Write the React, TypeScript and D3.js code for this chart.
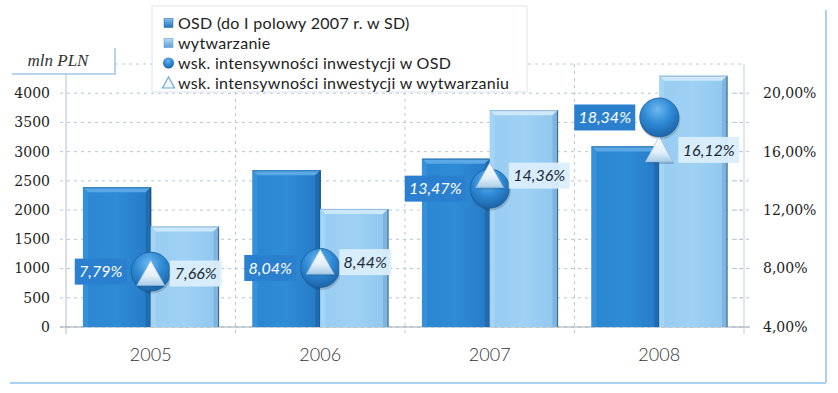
import React from "react";
import * as d3 from "d3";

const years = ["2005", "2006", "2007", "2008"];
const osdValues = [2390, 2680, 2880, 3090];
const wytwValues = [1720, 2020, 3710, 4300];
const osdIndex = [7.79, 8.04, 13.47, 18.34];
const wytwIndex = [7.66, 8.44, 14.36, 16.12];
const leftTicks = [0, 500, 1000, 1500, 2000, 2500, 3000, 3500, 4000];
const rightTicks = [4, 8, 12, 16, 20];
const rightMinor = [4, 6, 8, 10, 12, 14, 16, 18, 20];
const legendItems = [
  "OSD (do I polowy 2007 r. w SD)",
  "wytwarzanie",
  "wsk. intensywności inwestycji w OSD",
  "wsk. intensywności inwestycji w wytwarzaniu",
];

const W = 838;
const H = 393;
const x0 = 66;
const x1 = 744;
const yBottom = 327;
const yTop = 64;

const fmtPct = (v: number) => v.toFixed(2).replace(".", ",") + "%";

export default function App() {
  const x = d3.scaleBand<string>().domain(years).range([x0, x1]);
  const xs = d3.scaleBand<string>().domain(["osd", "wyt"]).range([0, x.bandwidth()]).paddingOuter(0.25);
  const yL = d3.scaleLinear().domain([0, 4500]).range([yBottom, yTop]);
  const yR = d3.scaleLinear().domain([4, 22]).range([yBottom, yTop]);
  const bw = xs.bandwidth();
  const grid = "#b9c6d3";
  const labelFont = "Lato, 'Open Sans', sans-serif";

  const bar = (key: string, xPos: number, v: number, dark: boolean) => {
    const y = yL(v);
    const b = 5;
    return (
      <g key={key}>
        <rect x={xPos} y={y} width={bw} height={yBottom - y} fill={dark ? "url(#darkBar)" : "url(#lightBar)"} />
        <polygon
          points={`${xPos},${y} ${xPos + bw},${y} ${xPos + bw - b},${y + b} ${xPos + b},${y + b}`}
          fill={dark ? "#5aa9e6" : "#cde8fa"}
        />
        <polygon
          points={`${xPos},${y} ${xPos + b},${y + b} ${xPos + b},${yBottom} ${xPos},${yBottom}`}
          fill={dark ? "#3994da" : "#a9d6f5"}
          opacity={0.8}
        />
        <polygon
          points={`${xPos + bw},${y} ${xPos + bw - b},${y + b} ${xPos + bw - b},${yBottom} ${xPos + bw},${yBottom}`}
          fill={dark ? "#1f69ad" : "#7bb3de"}
          opacity={0.9}
        />
        <line x1={xPos + bw} x2={xPos + bw} y1={y} y2={yBottom} stroke={dark ? "#1a4a78" : "#3d6c92"} strokeWidth={1.2} />
        <line x1={xPos} x2={xPos + bw} y1={y + 0.5} y2={y + 0.5} stroke={dark ? "#2a6fae" : "#8fbadc"} strokeWidth={1} />
      </g>
    );
  };

  return (
    <svg width={W} height={H} style={{ position: "absolute", left: 0, top: 0, background: "#fff" }}>
      <defs>
        <linearGradient id="darkBar" x1="0" x2="1" y1="0" y2="0">
          <stop offset="0" stopColor="#2b86d2" />
          <stop offset="0.5" stopColor="#2f8cd6" />
          <stop offset="1" stopColor="#2679c6" />
        </linearGradient>
        <linearGradient id="lightBar" x1="0" x2="1" y1="0" y2="0">
          <stop offset="0" stopColor="#98ccf1" />
          <stop offset="0.5" stopColor="#9fd1f4" />
          <stop offset="1" stopColor="#90c6ee" />
        </linearGradient>
        <radialGradient id="ball" cx="0.45" cy="0.3" r="0.72">
          <stop offset="0" stopColor="#6db8ee" />
          <stop offset="0.5" stopColor="#2f8ad5" />
          <stop offset="1" stopColor="#1a62a6" />
        </radialGradient>
        <linearGradient id="tri" x1="0" x2="0" y1="0" y2="1">
          <stop offset="0" stopColor="#ffffff" />
          <stop offset="0.6" stopColor="#e3f0fa" />
          <stop offset="1" stopColor="#a7cbe8" />
        </linearGradient>
        <linearGradient id="legSq" x1="0" x2="0" y1="0" y2="1">
          <stop offset="0" stopColor="#7fc0ef" />
          <stop offset="1" stopColor="#2272bd" />
        </linearGradient>
        <linearGradient id="legSq2" x1="0" x2="0" y1="0" y2="1">
          <stop offset="0" stopColor="#b5dcf7" />
          <stop offset="1" stopColor="#5a9fd6" />
        </linearGradient>
      </defs>

      {/* outer frame */}
      <line x1={826} x2={826} y1={10} y2={383} stroke="#a9d0ee" strokeWidth={2} />
      <line x1={10} x2={826} y1={383} y2={383} stroke="#a9d0ee" strokeWidth={2} />

      {/* horizontal grid */}
      {leftTicks.map((t) => (
        <line key={"g" + t} x1={60} x2={x1} y1={yL(t)} y2={yL(t)} stroke={grid} strokeDasharray="3,4" />
      ))}
      <line x1={115} x2={x1} y1={yTop} y2={yTop} stroke={grid} strokeDasharray="3,4" />

      {/* vertical grid */}
      {years.map((yr, i) =>
        i === 0 ? null : (
          <line key={"v" + yr} x1={x(yr)} x2={x(yr)} y1={yTop} y2={yBottom + 7} stroke={grid} strokeDasharray="3,4" />
        )
      )}

      {/* axes */}
      <line x1={x0} x2={x0} y1={74} y2={yBottom + 7} stroke="#aebfd0" />
      <line x1={x1} x2={x1} y1={yTop} y2={yBottom + 7} stroke="#c4cfda" />
      <line x1={60} x2={x1 + 6} y1={yBottom} y2={yBottom} stroke="#9aa7b3" />
      {rightMinor.map((t) => (
        <line key={"rt" + t} x1={x1 - 10} x2={x1 + 6} y1={yR(t)} y2={yR(t)} stroke={grid} strokeDasharray="3,3" />
      ))}

      {leftTicks.map((t) => (
        <text key={"l" + t} x={50} y={yL(t)} dy="0.35em" textAnchor="end" fontFamily="'DejaVu Serif', serif" fontSize={14} fill="#222">
          {t}
        </text>
      ))}

      {rightTicks.map((t) => (
        <text key={"r" + t} x={763} y={yR(t)} dy="0.35em" fontFamily="'DejaVu Serif', serif" fontSize={14} fill="#222">
          {fmtPct(t)}
        </text>
      ))}

      {/* unit box */}
      <path d="M12,74 L115,74 L115,48" fill="none" stroke="#a3c6e4" strokeWidth={1.5} />
      <text x={58} y={60} dy="0.35em" textAnchor="middle" fontFamily="'Liberation Serif', serif" fontStyle="italic" fontSize={17} fill="#333">
        mln PLN
      </text>

      {years.map((yr, i) => (
        <g key={"b" + yr}>
          {bar("d" + yr, (x(yr) as number) + (xs("osd") as number), osdValues[i], true)}
          {bar("l" + yr, (x(yr) as number) + (xs("wyt") as number), wytwValues[i], false)}
        </g>
      ))}

      {years.map((yr) => (
        <text
          key={"x" + yr}
          x={(x(yr) as number) + x.bandwidth() / 2}
          y={355}
          dy="0.35em"
          textAnchor="middle"
          fontFamily={labelFont}
          fontWeight={300}
          fontSize={18}
          fill="#333"
        >
          {yr}
        </text>
      ))}

      {years.map((yr, i) => {
        const cx = (x(yr) as number) + x.bandwidth() / 2;
        const cyO = yR(osdIndex[i]);
        const cyW = yR(wytwIndex[i]);
        const lo = fmtPct(osdIndex[i]);
        const lw = fmtPct(wytwIndex[i]);
        const wo = 9 * lo.length + 7;
        const ww = 9 * lw.length + 7;
        return (
          <g key={"m" + yr}>
            <circle cx={cx + 1} cy={cyO + 2} r={20} fill="#000" opacity={0.15} />
            <circle cx={cx} cy={cyO} r={19.5} fill="url(#ball)" stroke="#1c5d98" strokeWidth={0.8} />
            <polygon points={`${cx + 1},${cyW - 12} ${cx - 13},${cyW + 14} ${cx + 15},${cyW + 14}`} fill="#1a4a70" opacity={0.25} />
            <polygon
              points={`${cx},${cyW - 13} ${cx - 14},${cyW + 12} ${cx + 14},${cyW + 12}`}
              fill="url(#tri)"
              stroke="#8fb7d8"
              strokeWidth={0.6}
            />
            <rect x={cx - 24 - wo} y={cyO - 13} width={wo} height={26} fill="#2a80cf" />
            <text x={cx - 24 - wo / 2} y={cyO} dy="0.35em" textAnchor="middle" fontFamily={labelFont} fontStyle="italic" fontSize={16} fill="#fff">
              {lo}
            </text>
            <rect x={cx + 19} y={cyW - 13} width={ww} height={26} fill="#dbeefb" opacity={0.95} />
            <text x={cx + 19 + ww / 2} y={cyW} dy="0.35em" textAnchor="middle" fontFamily={labelFont} fontStyle="italic" fontSize={16} fill="#1b2a38">
              {lw}
            </text>
          </g>
        );
      })}

      {/* legend */}
      <rect x={152} y={6} width={375} height={86} fill="#fff" stroke="#dde5ed" strokeWidth={1} />
      {legendItems.map((name, i) => {
        const ly = 23 + i * 20;
        return (
          <g key={"lg" + i}>
            {i === 0 && <rect x={164} y={ly - 4.5} width={9} height={9} fill="url(#legSq)" stroke="#2a6aa8" strokeWidth={0.5} />}
            {i === 1 && <rect x={164} y={ly - 4.5} width={9} height={9} fill="url(#legSq2)" stroke="#5b95c7" strokeWidth={0.5} />}
            {i === 2 && <circle cx={168.5} cy={ly} r={5.5} fill="url(#ball)" />}
            {i === 3 && (
              <polygon
                points={`${168.5},${ly - 6} ${162.5},${ly + 5} ${174.5},${ly + 5}`}
                fill="#f4f9fd"
                stroke="#6ea9d8"
                strokeWidth={1.2}
              />
            )}
            <text x={178} y={ly} dy="0.35em" fontFamily={labelFont} fontSize={16} letterSpacing={0.3} fill="#222">
              {name}
            </text>
          </g>
        );
      })}
    </svg>
  );
}
